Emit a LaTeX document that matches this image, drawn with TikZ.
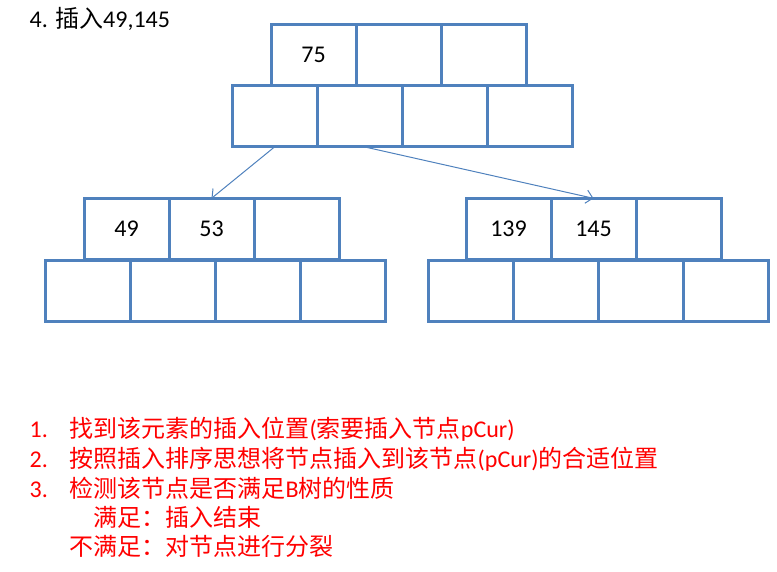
\documentclass[tikz,border=0pt]{standalone}
\usepackage{fontspec}
\setmainfont{Carlito}
\newfontfamily\cjk{Noto Sans CJK SC}
\usepackage{tikz}
\usetikzlibrary{positioning}
\usetikzlibrary{arrows.meta}
\definecolor{cellblue}{HTML}{4F81BD}

\begin{document}
\begin{tikzpicture}[x=0.75pt,y=-0.75pt,>={Straight Barb[length=5pt,width=10pt]},font=\fontsize{18pt}{22pt}\selectfont]
    \tikzstyle{cell}=[draw=cellblue, line width=2.25pt, minimum width=63.75pt, minimum height=46pt, inner sep=0pt, outer sep=0pt]
    \tikzstyle{link}=[->, cellblue, line width=0.75pt]
    \tikzstyle{rule}=[anchor=base west, text=red]
    \useasboundingbox (0,0) rectangle (777,571);

    \node[anchor=base west] (title) at (25,27) {4. {\cjk 插入}49,145};

    % root node
    \node[cell] (r1) at (313.5,55) {75};
    \node[cell, right=0pt of r1] (r2) {};
    \node[cell, right=0pt of r2] (r3) {};
    \node[cell] (rp1) at (274.5,116.3) {};
    \node[cell, right=0pt of rp1] (rp2) {};
    \node[cell, right=0pt of rp2] (rp3) {};
    \node[cell, right=0pt of rp3] (rp4) {};

    % left child
    \node[cell] (l1) at (126.5,229) {49};
    \node[cell, right=0pt of l1] (l2) {53};
    \node[cell, right=0pt of l2] (l3) {};
    \node[cell] (lp1) at (87.5,291) {};
    \node[cell, right=0pt of lp1] (lp2) {};
    \node[cell, right=0pt of lp2] (lp3) {};
    \node[cell, right=0pt of lp3] (lp4) {};

    % right child
    \node[cell] (c1) at (508.5,229) {139};
    \node[cell, right=0pt of c1] (c2) {145};
    \node[cell, right=0pt of c2] (c3) {};
    \node[cell] (cp1) at (470.5,291) {};
    \node[cell, right=0pt of cp1] (cp2) {};
    \node[cell, right=0pt of cp2] (cp3) {};
    \node[cell, right=0pt of cp3] (cp4) {};

    \draw[link] (rp1.south) -- (l2.north);
    \draw[link] ([xshift=4pt]rp2.south) -- (c2.north);

    % steps
    \node[rule] (n1) at (25,437) {1.};
    \node[rule] (s1) at (65,437) {{\cjk 找到该元素的插入位置}({\cjk 索要插入节点}pCur)};
    \node[rule] (n2) at (25,467) {2.};
    \node[rule] (s2) at (65,467) {{\cjk 按照插入排序思想将节点插入到该节点}(pCur){\cjk 的合适位置}};
    \node[rule] (n3) at (25,497) {3.};
    \node[rule] (s3) at (65,497) {{\cjk 检测该节点是否满足}B{\cjk 树的性质}};
    \node[rule] (s4) at (89,526) {{\cjk 满足：插入结束}};
    \node[rule] (s5) at (65,555) {{\cjk 不满足：对节点进行分裂}};
\end{tikzpicture}
\end{document}
